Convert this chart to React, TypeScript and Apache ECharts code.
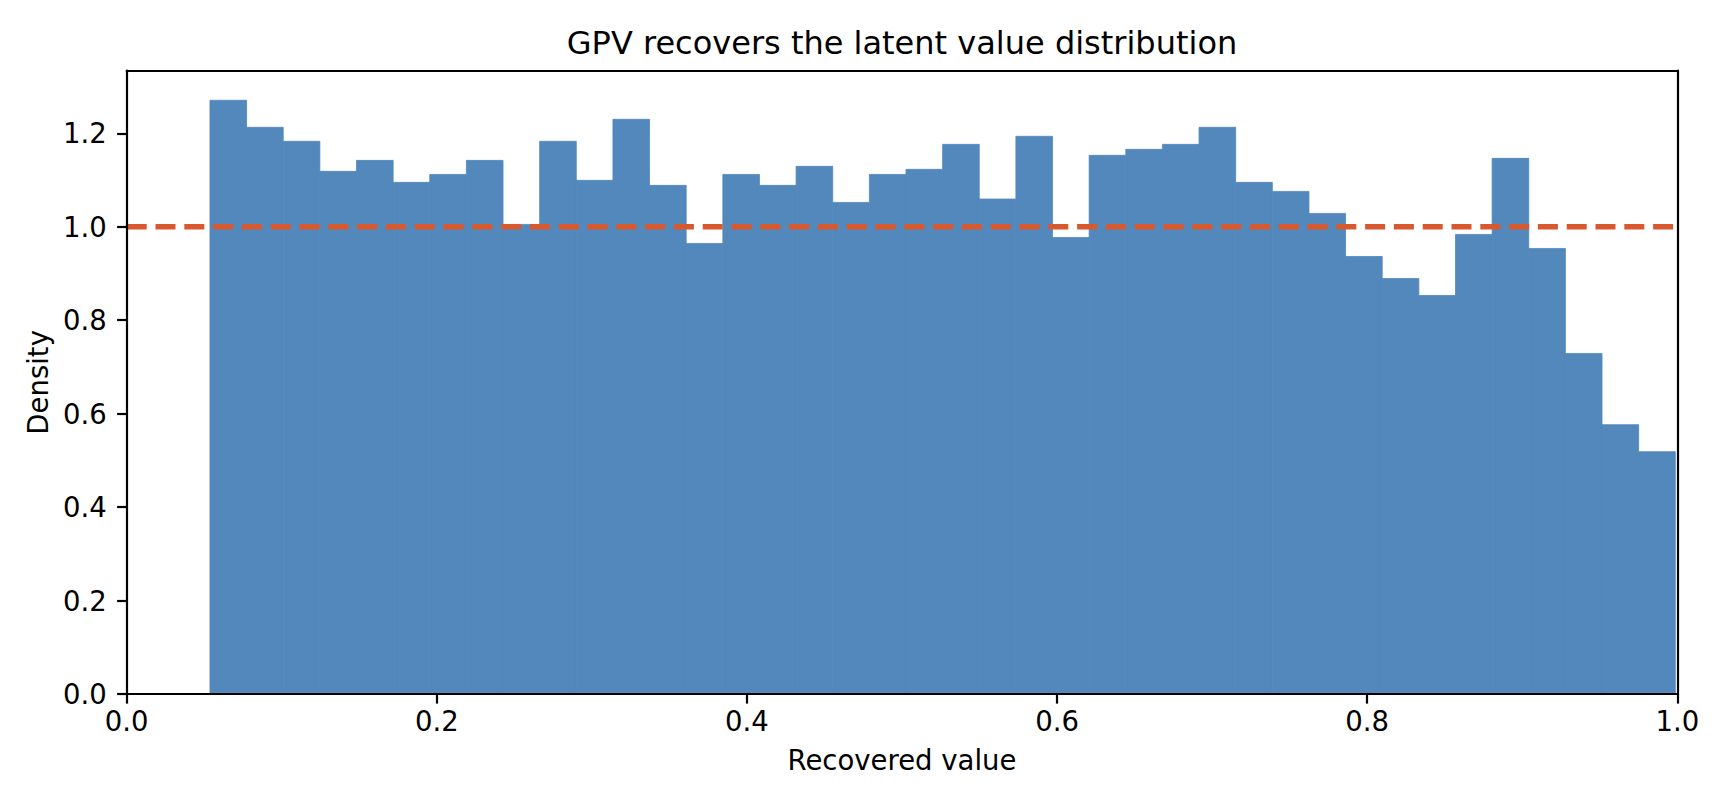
import React, { useEffect, useRef } from "react";
import * as echarts from "echarts";

// Histogram: 40 equal-width bins between binLow and binHigh
const binLow = 0.0537;
const binHigh = 0.9987;
const densities = [
  1.2707, 1.2129, 1.1829, 1.1186, 1.1421, 1.095, 1.112, 1.1421, 1.005, 1.1829,
  1.0993, 1.23, 1.0886, 0.9643, 1.112, 1.0886, 1.1293, 1.0521, 1.112, 1.1229,
  1.1764, 1.0593, 1.1936, 0.9771, 1.1529, 1.1657, 1.1764, 1.2129, 1.095, 1.0757,
  1.0286, 0.9364, 0.8893, 0.8529, 0.9836, 1.1464, 0.9536, 0.7286, 0.5764, 0.5186,
];
const referenceDensity = 1.0;
const xTicks = [0, 0.2, 0.4, 0.6, 0.8, 1.0];
const yTicks = [0, 0.2, 0.4, 0.6, 0.8, 1.0, 1.2];
const yMax = 1.334;
const titleText = "GPV recovers the latent value distribution";

const BAR = "#5288bb";
const LINE = "#d9592f";
const FONT = "DejaVu Sans";

export default function App() {
  const ref = useRef<HTMLDivElement>(null);
  useEffect(() => {
    if (!ref.current) return;
    const chart = echarts.init(ref.current, undefined, { renderer: "svg" });
    const n = densities.length;
    const w = (binHigh - binLow) / n;
    const bins = densities.map((d, i) => [binLow + i * w, binLow + (i + 1) * w, d]);
    const axisLineStyle = { color: "#000", width: 2.2 };
    chart.setOption({
      animation: false,
      backgroundColor: "#fff",
      graphic: [
        {
          type: "text",
          x: 902,
          y: 43,
          style: {
            text: titleText,
            fill: "#000",
            font: `32px "${FONT}"`,
            textAlign: "center",
            textVerticalAlign: "middle",
          },
        },
      ],
      grid: { left: 126.7, right: 50.7, top: 70.7, bottom: 112, containLabel: false },
      xAxis: [
        {
          type: "value",
          min: 0,
          max: 1,
          interval: 0.2,
          z: 10,
          name: "Recovered value",
          nameLocation: "middle",
          nameGap: 52,
          nameTextStyle: { fontFamily: FONT, fontSize: 27.5, color: "#000" },
          axisLine: { show: true, onZero: false, lineStyle: axisLineStyle },
          axisTick: { show: true, length: 9.6, inside: false, lineStyle: { color: "#000", width: 2.2 }, customValues: xTicks },
          axisLabel: {
            show: true,
            margin: 13,
            fontFamily: FONT,
            fontSize: 27.5,
            color: "#000",
            customValues: xTicks,
            formatter: (v: number) => v.toFixed(1),
          },
          splitLine: { show: false },
        },
        {
          type: "value",
          min: 0,
          max: 1,
          position: "top",
          z: 10,
          axisLine: { show: true, onZero: false, lineStyle: axisLineStyle },
          axisTick: { show: false },
          axisLabel: { show: false },
          splitLine: { show: false },
        },
      ],
      yAxis: [
        {
          type: "value",
          min: 0,
          max: yMax,
          interval: 0.2,
          z: 10,
          name: "Density",
          nameLocation: "middle",
          nameGap: 65,
          nameTextStyle: { fontFamily: FONT, fontSize: 27.5, color: "#000" },
          axisLine: { show: true, onZero: false, lineStyle: axisLineStyle },
          axisTick: { show: true, length: 9.6, inside: false, lineStyle: { color: "#000", width: 2.2 }, customValues: yTicks },
          axisLabel: {
            show: true,
            margin: 20,
            fontFamily: FONT,
            fontSize: 27.5,
            color: "#000",
            customValues: yTicks,
            formatter: (v: number) => v.toFixed(1),
          },
          splitLine: { show: false },
        },
        {
          type: "value",
          min: 0,
          max: yMax,
          position: "right",
          z: 10,
          axisLine: { show: true, onZero: false, lineStyle: axisLineStyle },
          axisTick: { show: false },
          axisLabel: { show: false },
          splitLine: { show: false },
        },
      ],
      series: [
        {
          type: "custom",
          xAxisIndex: 0,
          yAxisIndex: 0,
          z: 2,
          data: bins,
          encode: { x: [0, 1], y: 2 },
          renderItem: (params: any, api: any) => {
            const p0 = api.coord([api.value(0), api.value(2)]);
            const p1 = api.coord([api.value(1), 0]);
            return {
              type: "rect",
              shape: { x: p0[0], y: p0[1], width: p1[0] - p0[0], height: p1[1] - p0[1] },
              style: { fill: BAR, stroke: BAR, lineWidth: 0.8 },
            };
          },
        },
        {
          type: "line",
          xAxisIndex: 0,
          yAxisIndex: 0,
          z: 3,
          symbol: "none",
          data: [
            [0, referenceDensity],
            [1, referenceDensity],
          ],
          lineStyle: { color: LINE, width: 5.5, type: [20, 8.8] },
        },
      ],
    });
    return () => chart.dispose();
  }, []);
  return (
    <div
      ref={ref}
      style={{ position: "fixed", left: 0, top: 0, width: 1728, height: 806, background: "#fff" }}
    />
  );
}
